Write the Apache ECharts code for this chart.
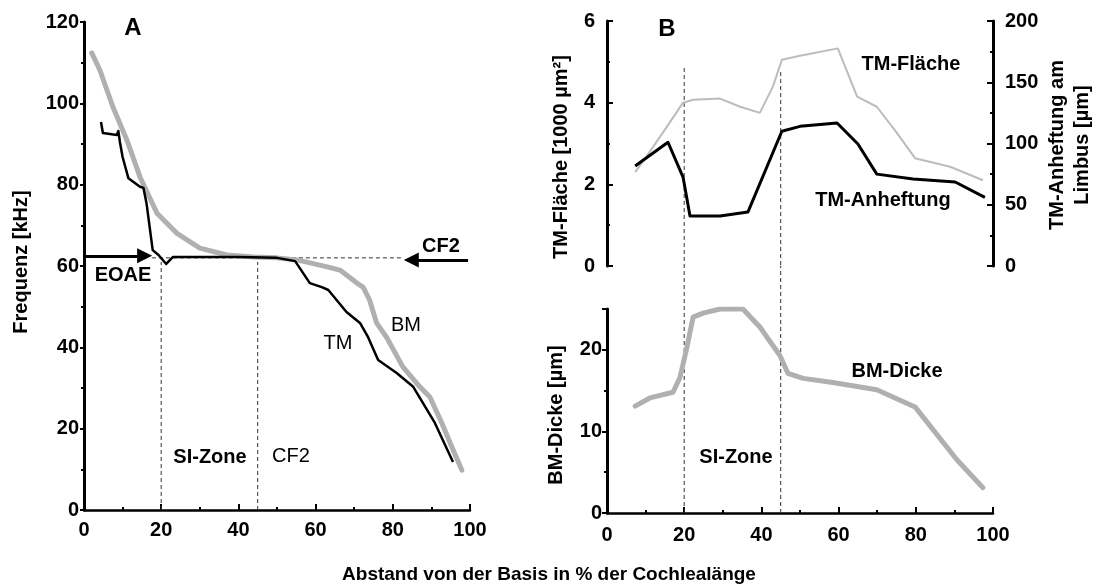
<!DOCTYPE html>
<html><head><meta charset="utf-8">
<script src="https://cdn.jsdelivr.net/npm/echarts@6/dist/echarts.min.js"></script>
<style>html,body{margin:0;padding:0;background:#fff}#c{width:1093px;height:586px}</style>
</head><body><div id="c"></div>
<script>
// ---------- Panel A: frequency place maps ----------
const posA_BM  = [2,4.1,7.5,11.1,14.5,18.9,24,30,37,44,50,55.2,63,66.3,70.7,72.3,74,75.8,78.5,82.6,87,89.6,92.7,95.3,97.9];
const freqA_BM = [112.4,108.2,99.1,91,81.9,73,68.1,64.4,62.7,62.2,62,61.5,59.8,59,55.8,54.8,51.6,46,42.3,35.2,30.3,27.8,21.4,15.5,9.8];
const posA_TM  = [4.4,4.9,8.5,8.9,9.3,10,11.5,14.5,15.4,16.2,17.8,19.3,21.3,23,30,40,50,54.7,58.5,61.6,63.3,68,71.5,73.6,76.2,81,85.3,90.9,95.6];
const freqA_TM = [95.4,92.7,92.2,93.2,90.5,86.8,81.6,79.5,79.2,75.4,63.9,62.7,60.5,62.2,62.2,62.2,62,61.2,55.8,54.8,54.1,48.7,46,42.5,36.9,33.7,30.3,21.4,11.8];
const zoneBounds = [20, 45];        // SI-Zone borders (% length)
const zoneTopA   = 61;              // dashed verticals end (kHz)
const cf2Level   = 62;              // CF2 frequency (kHz)
const eoaeArrow  = [0, 15.7];       // arrow shaft from / to (%)
const cf2Arrow   = [99.5, 84.8];    // arrow shaft from / to (%)
const eoaeLevel  = 62.5;
const cf2ArrowLevel = 61.5;
const dashA      = [17.6, 82.6];    // horizontal dashed line extent (%)

// ---------- Panel B ----------
const posB_TMF = [7.3,11.1,15.8,19.7,22.3,29.3,34.5,39.6,43,45.3,50,59.8,64.8,69.9,75.1,79.8,88.9,97.4];
const tmFlaeche = [2.3,2.8,3.45,4.0,4.07,4.1,3.9,3.75,4.4,5.05,5.15,5.33,4.15,3.9,3.26,2.64,2.43,2.1];
const posB_TMA = [7.3,15.8,19.7,21.5,29.3,36.5,45.3,50,59.6,65,69.9,79.3,90.2,97.9];
const tmAnheftung = [81.6,101,72.6,40.8,40.8,44,110,114,116.7,99.6,75,71,68.6,56];
const posB_BMD = [7.3,11.1,17.1,18.9,20.7,22.3,24.9,29.3,35.2,39.6,44.8,46.9,50.8,58.5,69.9,79.8,90.7,97.4];
const bmDicke = [13.1,14.1,14.8,16.6,20.3,24,24.5,25,25,22.8,19.3,17.1,16.5,16,15.1,13,6.5,3.1];
const zoneTopB = [4.85, 4.75];      // top of dashed verticals in upper B (1000 µm²)
const zoneBottomExtB = 30.3;        // dashed verticals continue above bottom plot (µm scale)

const zip = (a, b) => a.map((v, i) => [v, b[i]]);
const FONT = '"Liberation Sans", Arial, Helvetica, sans-serif';
const GRAY = '#b0b0b0';

const chart = echarts.init(document.getElementById('c'), null, {renderer: 'canvas'});

const lbl = (margin, extra) => Object.assign({color: '#000', fontFamily: FONT, fontWeight: 'bold', fontSize: 20, margin: margin}, extra || {});
const line = (w) => ({show: true, lineStyle: {color: '#000', width: w}});

const dashSeries = [];
zoneBounds.forEach((x, i) => {
  dashSeries.push({type: 'line', xAxisIndex: 0, yAxisIndex: 0, data: [[x, 0], [x, zoneTopA]], symbol: 'none', silent: true,
    lineStyle: {color: '#333', width: 1, type: [4, 3]}, z: 1});
  dashSeries.push({type: 'line', xAxisIndex: 1, yAxisIndex: 1, data: [[x, zoneTopB[i]], [x, 0]], symbol: 'none', silent: true, clip: false,
    lineStyle: {color: '#333', width: 1, type: [4, 3]}, z: 1});
  dashSeries.push({type: 'line', xAxisIndex: 2, yAxisIndex: 3, data: [[x, 0], [x, zoneBottomExtB]], symbol: 'none', silent: true, clip: false,
    lineStyle: {color: '#333', width: 1, type: [4, 3]}, z: 1});
});

const txt = (x, y, s, opt) => Object.assign({type: 'text', x: x, y: y, silent: true,
  style: Object.assign({text: s, fill: '#000', font: 'bold 20px ' + FONT, align: 'center', verticalAlign: 'middle'}, (opt && opt.style) || {})},
  opt && opt.rotation ? {rotation: opt.rotation} : {});

const option = {
  backgroundColor: '#fff',
  animation: false,
  grid: [
    {left: 84, top: 22, width: 386, height: 488, containLabel: false, outerBoundsMode: 'none'},
    {left: 607, top: 21, width: 386, height: 245, containLabel: false, outerBoundsMode: 'none'},
    {left: 607, top: 309, width: 386, height: 204, containLabel: false, outerBoundsMode: 'none'}
  ],
  xAxis: [
    {gridIndex: 0, type: 'value', min: 0, max: 100, interval: 20, axisLine: line(2.5),
     axisTick: {show: true, inside: true, length: 6, lineStyle: {color: '#000', width: 2}},
     minorTick: {show: true, splitNumber: 2, length: 3, lineStyle: {color: '#000', width: 2}},
     axisLabel: lbl(10), splitLine: {show: false}, minorSplitLine: {show: false}},
    {gridIndex: 1, type: 'value', min: 0, max: 100, show: false},
    {gridIndex: 2, type: 'value', min: 0, max: 100, interval: 20, axisLine: line(2.5),
     axisTick: {show: true, inside: true, length: 6, lineStyle: {color: '#000', width: 2}},
     minorTick: {show: true, splitNumber: 2, length: 3, lineStyle: {color: '#000', width: 2}},
     axisLabel: lbl(12), splitLine: {show: false}}
  ],
  yAxis: [
    {gridIndex: 0, type: 'value', min: 0, max: 120, interval: 20, axisLine: line(3),
     axisTick: {show: true, inside: false, length: 4, lineStyle: {color: '#000', width: 2}},
     minorTick: {show: true, splitNumber: 2, length: 3, lineStyle: {color: '#000', width: 2}},
     axisLabel: lbl(5), splitLine: {show: false}},
    {gridIndex: 1, type: 'value', min: 0, max: 6, interval: 2, position: 'left', axisLine: line(3),
     axisTick: {show: true, inside: true, length: 6, lineStyle: {color: '#000', width: 2}},
     minorTick: {show: true, splitNumber: 2, length: 3, lineStyle: {color: '#000', width: 2}},
     axisLabel: lbl(12), splitLine: {show: false}},
    {gridIndex: 1, type: 'value', min: 0, max: 200, interval: 50, position: 'right', axisLine: line(3),
     axisTick: {show: true, inside: true, length: 6, lineStyle: {color: '#000', width: 2}},
     minorTick: {show: true, splitNumber: 2, length: 3, lineStyle: {color: '#000', width: 2}},
     axisLabel: lbl(12), splitLine: {show: false}},
    {gridIndex: 2, type: 'value', min: 0, max: 25, interval: 10, axisLine: line(3),
     axisTick: {show: true, inside: false, length: 5, lineStyle: {color: '#000', width: 2}},
     minorTick: {show: true, splitNumber: 2, length: 3, lineStyle: {color: '#000', width: 2}},
     axisLabel: lbl(5, {showMaxLabel: false}), splitLine: {show: false}}
  ],
  series: [
    ...dashSeries,
    {type: 'line', xAxisIndex: 0, yAxisIndex: 0, data: zip(dashA, [cf2Level, cf2Level]), symbol: 'none', silent: true,
     lineStyle: {color: '#333', width: 1, type: [4, 3]}, z: 1},
    {type: 'line', name: 'BM', xAxisIndex: 0, yAxisIndex: 0, data: zip(posA_BM, freqA_BM), symbol: 'none',
     lineStyle: {color: GRAY, width: 5, cap: 'round', join: 'round'}, z: 2},
    {type: 'line', name: 'TM', xAxisIndex: 0, yAxisIndex: 0, data: zip(posA_TM, freqA_TM), symbol: 'none',
     lineStyle: {color: '#000', width: 2.5, join: 'round'}, z: 3},
    {type: 'line', xAxisIndex: 0, yAxisIndex: 0, data: [], symbol: 'none', silent: true,
     markLine: {silent: true, symbol: ['none', 'triangle'], symbolSize: [15, 15], label: {show: false},
       lineStyle: {color: '#000', width: 3, type: 'solid'},
       data: [
         [{coord: [eoaeArrow[0], eoaeLevel]}, {coord: [eoaeArrow[1], eoaeLevel]}],
         [{coord: [cf2Arrow[0], cf2ArrowLevel]}, {coord: [cf2Arrow[1], cf2ArrowLevel]}]
       ]}, z: 4},
    {type: 'line', name: 'TM-Fläche', xAxisIndex: 1, yAxisIndex: 1, data: zip(posB_TMF, tmFlaeche), symbol: 'none',
     lineStyle: {color: '#bcbcbc', width: 2}, z: 2},
    {type: 'line', name: 'TM-Anheftung', xAxisIndex: 1, yAxisIndex: 2, data: zip(posB_TMA, tmAnheftung), symbol: 'none',
     lineStyle: {color: '#000', width: 3, join: 'round'}, z: 3},
    {type: 'line', name: 'BM-Dicke', xAxisIndex: 2, yAxisIndex: 3, data: zip(posB_BMD, bmDicke), symbol: 'none',
     lineStyle: {color: GRAY, width: 5, cap: 'round', join: 'round'}, z: 2}
  ],
  graphic: [
    txt(133, 28, 'A', {style: {font: 'bold 24px ' + FONT}}),
    txt(667, 29, 'B', {style: {font: 'bold 24px ' + FONT}}),
    txt(21, 262, 'Frequenz [kHz]', {rotation: Math.PI / 2}),
    txt(561, 157, 'TM-Fläche [1000 µm²]', {rotation: Math.PI / 2}),
    txt(556, 415, 'BM-Dicke [µm]', {rotation: Math.PI / 2}),
    txt(1070, 145, 'TM-Anheftung am\nLimbus [µm]', {rotation: Math.PI / 2, style: {lineHeight: 25}}),
    txt(549, 575, 'Abstand von der Basis in % der Cochlealänge', {style: {font: 'bold 19px ' + FONT}}),
    txt(123, 275, 'EOAE'),
    txt(441, 246, 'CF2'),
    txt(210, 457, 'SI-Zone'),
    txt(291, 456, 'CF2', {style: {font: '20px ' + FONT}}),
    txt(338, 343, 'TM', {style: {font: '20px ' + FONT}}),
    txt(406, 325, 'BM', {style: {font: '20px ' + FONT}}),
    txt(911, 64, 'TM-Fläche'),
    txt(883, 200, 'TM-Anheftung'),
    txt(897, 371, 'BM-Dicke'),
    txt(736, 457, 'SI-Zone')
  ]
};
chart.setOption(option);
</script>
</body></html>
